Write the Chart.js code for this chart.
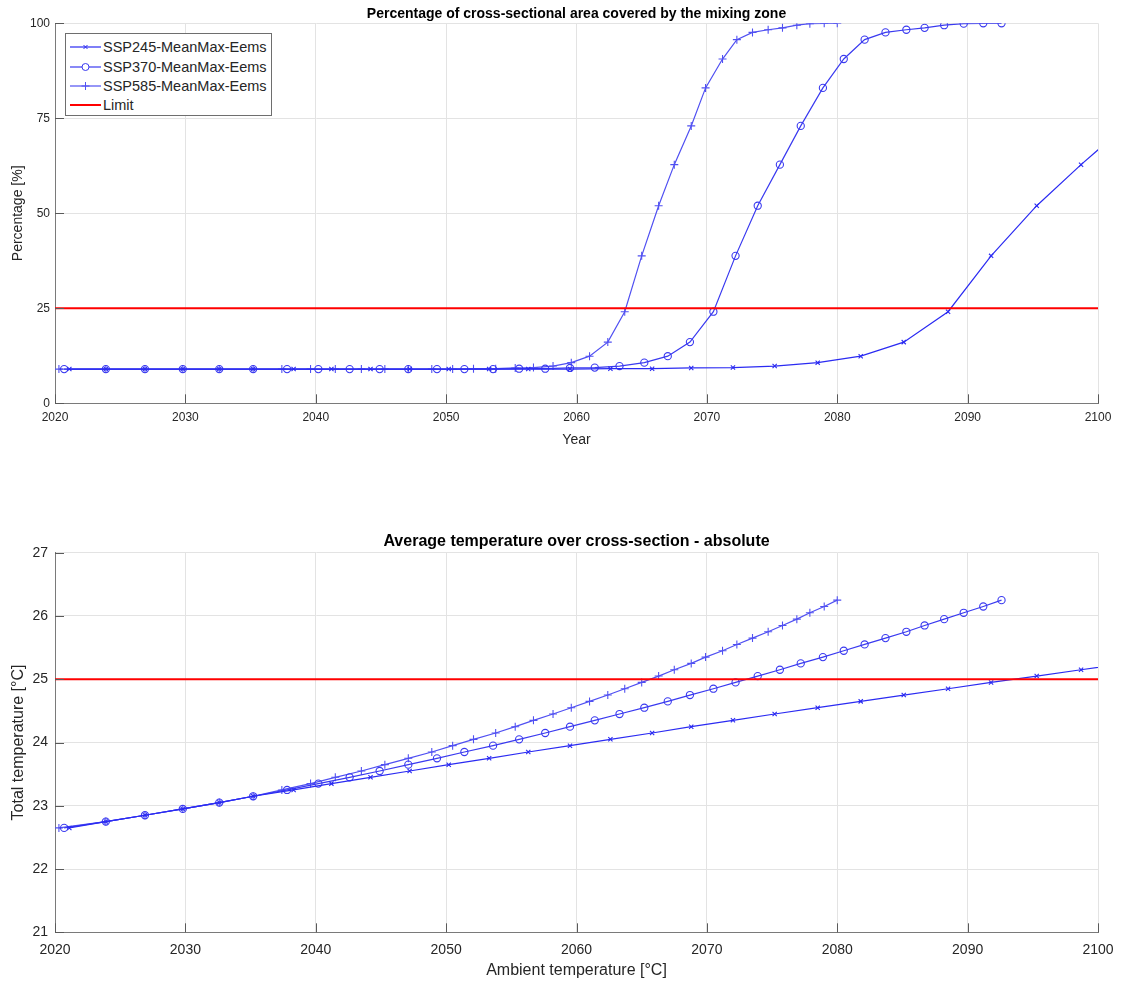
<!DOCTYPE html>
<html>
<head>
<meta charset="utf-8">
<script src="https://cdn.jsdelivr.net/npm/chart.js@4.4.1/dist/chart.umd.min.js"></script>
<style>
  body { margin: 0; background: #fff; width: 1127px; height: 982px; overflow: hidden; position: relative;
         font-family: "Liberation Sans", Arial, sans-serif; }
  .panel { position: absolute; left: 0; width: 1127px; height: 491px; }
  #legend { position: absolute; left: 65px; top: 33px; width: 205px; height: 81px;
            border: 1px solid #6e6e6e; background: #fff; }
  #legend .row { position: absolute; left: 0; height: 20px; line-height: 20px; font-size: 14.5px; color: #262626; white-space: nowrap; }
  #legend svg { position: absolute; left: 2px; top: 4px; }
  #legend span { position: absolute; left: 37px; top: 0; }
</style>
</head>
<body>
<div class="panel" style="top:0"><canvas id="pctChart" width="1127" height="491"></canvas></div>
<div class="panel" style="top:491px"><canvas id="tempChart" width="1127" height="491"></canvas></div>
<div id="legend"></div>
<script>
const seriesNames = ['SSP245-MeanMax-Eems', 'SSP370-MeanMax-Eems', 'SSP585-MeanMax-Eems'];
const limitName = 'Limit';
const yearMin = 2020, yearMax = 2100;

// total temperature at each marker (same steps for all three scenarios)
const totalTemp = [22.65, 22.75, 22.85, 22.95, 23.05, 23.15, 23.25, 23.35, 23.45, 23.55,
  23.65, 23.75, 23.85, 23.95, 24.05, 24.15, 24.25, 24.35, 24.45, 24.55,
  24.65, 24.75, 24.85, 24.95, 25.05, 25.15, 25.25, 25.35, 25.45, 25.55,
  25.65, 25.75, 25.85, 25.95, 26.05, 26.15, 26.25];

// % of cross-section covered by the mixing zone at those steps
const areaPct = [9.0, 9.0, 9.0, 9.0, 9.0, 9.0, 9.0, 9.0, 9.0, 9.0,
  9.0, 9.0, 9.0, 9.0, 9.1, 9.1, 9.3, 9.4, 9.8, 10.7,
  12.4, 16.1, 24.1, 38.8, 52.0, 62.8, 73.0, 83.0, 90.6, 95.7,
  97.6, 98.3, 98.8, 99.5, 99.9, 100, 100];

// year at which each step is reached
const years245 = [2021.1, 2023.9, 2026.9, 2029.8, 2032.6, 2035.2, 2038.3, 2041.2, 2044.2, 2047.2,
  2050.2, 2053.3, 2056.3, 2059.5, 2062.6, 2065.8, 2068.8, 2072.0, 2075.2, 2078.5,
  2081.8, 2085.1, 2088.5, 2091.8, 2095.3, 2098.7, 2102.1];
const years370 = [2020.7, 2023.9, 2026.9, 2029.8, 2032.6, 2035.2, 2037.8, 2040.2, 2042.6, 2044.9,
  2047.1, 2049.3, 2051.4, 2053.6, 2055.6, 2057.6, 2059.5, 2061.4, 2063.3, 2065.2,
  2067.0, 2068.7, 2070.5, 2072.2, 2073.9, 2075.6, 2077.2, 2078.9, 2080.5, 2082.1,
  2083.7, 2085.3, 2086.7, 2088.2, 2089.7, 2091.2, 2092.6];
const years585 = [2020.3, 2023.9, 2026.9, 2029.8, 2032.6, 2035.2, 2037.4, 2039.6, 2041.5, 2043.5,
  2045.3, 2047.1, 2048.9, 2050.5, 2052.1, 2053.8, 2055.3, 2056.7, 2058.2, 2059.6,
  2061.0, 2062.4, 2063.7, 2065.0, 2066.3, 2067.5, 2068.8, 2069.9, 2071.2, 2072.3,
  2073.5, 2074.7, 2075.8, 2076.9, 2077.9, 2079.0, 2080.0];

const pctLimit = 25;
const tempLimit = 25;

const FONT = '"Liberation Sans", Arial, sans-serif';
const styles = [
  { color: '#2b2bf2', marker: 'crossRot', radius: 3 },
  { color: '#3a3af0', marker: 'circle', radius: 3.6 },
  { color: '#5050f2', marker: 'cross', radius: 4 }
];
const allYears = [years245, years370, years585];

function seriesSets(values) {
  return allYears.map((yrs, k) => ({
    label: seriesNames[k],
    data: yrs.map((yr, i) => ({ x: yr, y: values[i] })),
    borderColor: styles[k].color,
    borderWidth: 1.2,
    pointStyle: styles[k].marker,
    pointRadius: styles[k].radius,
    pointBorderColor: styles[k].color,
    pointBorderWidth: 1.1,
    pointBackgroundColor: 'rgba(0,0,0,0)',
    tension: 0,
    order: 1
  }));
}

function limitSet(v) {
  return {
    label: limitName,
    data: [{ x: yearMin, y: v }, { x: yearMax, y: v }],
    borderColor: '#ff0000',
    borderWidth: 2,
    pointRadius: 0,
    order: 0
  };
}

// MATLAB style: ticks point into the axes
const innerTicks = {
  id: 'innerTicks',
  afterDatasetsDraw(chart) {
    const { ctx, chartArea: a, scales: { x, y } } = chart;
    ctx.save();
    ctx.strokeStyle = '#5a5a5a';
    ctx.lineWidth = 1;
    ctx.beginPath();
    x.ticks.forEach(t => {
      const px = Math.round(x.getPixelForValue(t.value)) + 0.5;
      ctx.moveTo(px, a.bottom); ctx.lineTo(px, a.bottom - 9);
    });
    y.ticks.forEach(t => {
      const py = Math.round(y.getPixelForValue(t.value)) + 0.5;
      ctx.moveTo(a.left, py); ctx.lineTo(a.left + 9, py);
    });
    ctx.stroke();
    ctx.restore();
  }
};

// title centred over the plot area, not the canvas
const plotTitle = {
  id: 'plotTitle',
  afterDraw(chart, args, opts) {
    const { ctx, chartArea: a } = chart;
    ctx.save();
    ctx.font = 'bold ' + opts.size + 'px ' + FONT;
    ctx.fillStyle = '#000';
    ctx.textAlign = 'center';
    ctx.textBaseline = 'middle';
    ctx.fillText(opts.text, (a.left + a.right) / 2, opts.y);
    ctx.restore();
  }
};
Chart.register(innerTicks, plotTitle);

function buildOptions(c) {
  return {
    responsive: false,
    animation: false,
    layout: { padding: { top: c.top, right: 29, bottom: 0, left: 0 } },
    plugins: {
      legend: { display: false },
      tooltip: { enabled: false },
      plotTitle: { text: c.title, y: c.titleY, size: c.titleSize }
    },
    scales: {
      x: {
        type: 'linear', min: yearMin, max: yearMax,
        afterFit: s => { s.height = c.xHeight; },
        ticks: { stepSize: 10, padding: c.xPad, color: '#262626', maxRotation: 0, autoSkip: false,
                 font: { family: FONT, size: c.tick }, callback: v => String(v) },
        grid: { color: '#e3e3e3', drawTicks: false },
        border: { color: '#7a7a7a' },
        title: { display: true, text: c.xTitle, color: '#262626',
                 font: { family: FONT, size: c.label }, padding: { top: 0, bottom: c.xTitlePad } }
      },
      y: {
        type: 'linear', min: c.ymin, max: c.ymax,
        afterFit: s => { s.width = 55; },
        ticks: { stepSize: c.ystep, padding: c.yPad, color: '#262626',
                 font: { family: FONT, size: c.tick } },
        grid: { color: '#e3e3e3', drawTicks: false },
        border: { color: '#7a7a7a' },
        title: { display: true, text: c.yTitle, color: '#262626',
                 font: { family: FONT, size: c.label }, padding: { top: c.yTitlePad, bottom: 0 } }
      }
    }
  };
}

new Chart(document.getElementById('pctChart'), {
  type: 'line',
  data: { datasets: [...seriesSets(areaPct), limitSet(pctLimit)] },
  options: buildOptions({
    top: 23.3, xHeight: 87.7, xPad: 6.8, xTitlePad: 42.6, yPad: 5, yTitlePad: 10.2,
    tick: 12, label: 14, ymin: 0, ymax: 100, ystep: 25,
    title: 'Percentage of cross-sectional area covered by the mixing zone', titleY: 14, titleSize: 14,
    xTitle: 'Year', yTitle: 'Percentage [%]'
  })
});

new Chart(document.getElementById('tempChart'), {
  type: 'line',
  data: { datasets: [...seriesSets(totalTemp), limitSet(tempLimit)] },
  options: buildOptions({
    top: 61.7, xHeight: 49.7, xPad: 9.3, xTitlePad: 1.7, yPad: 7, yTitlePad: 8.7,
    tick: 14, label: 16, ymin: 21, ymax: 27, ystep: 1,
    title: 'Average temperature over cross-section - absolute', titleY: 50.7, titleSize: 16,
    xTitle: 'Ambient temperature [°C]', yTitle: 'Total temperature [°C]'
  })
});

// legend box (top panel), built from the same names and styles
function markerSvg(k) {
  const c = styles[k].color;
  let m = '';
  if (styles[k].marker === 'crossRot') m = `<path d="M15.5 4 L19.5 8 M19.5 4 L15.5 8" stroke="${c}" stroke-width="1"/>`;
  if (styles[k].marker === 'circle') m = `<circle cx="17.5" cy="6" r="3.5" fill="#fff" stroke="${c}" stroke-width="1"/>`;
  if (styles[k].marker === 'cross') m = `<path d="M17.5 2 L17.5 10 M13.5 6 L21.5 6" stroke="${c}" stroke-width="1"/>`;
  return `<svg width="34" height="12"><line x1="2" y1="6" x2="33" y2="6" stroke="${c}" stroke-width="1.2"/>${m}</svg>`;
}
const legend = document.getElementById('legend');
const rowCentres = [12.7, 32.7, 52, 71.3];
seriesNames.concat([limitName]).forEach((name, k) => {
  const row = document.createElement('div');
  row.className = 'row';
  row.style.top = (rowCentres[k] - 10) + 'px';
  const svg = k < 3 ? markerSvg(k)
    : '<svg width="34" height="12"><line x1="2" y1="6" x2="33" y2="6" stroke="#ff0000" stroke-width="2"/></svg>';
  row.innerHTML = svg + '<span>' + name + '</span>';
  legend.appendChild(row);
});
</script>
</body>
</html>
